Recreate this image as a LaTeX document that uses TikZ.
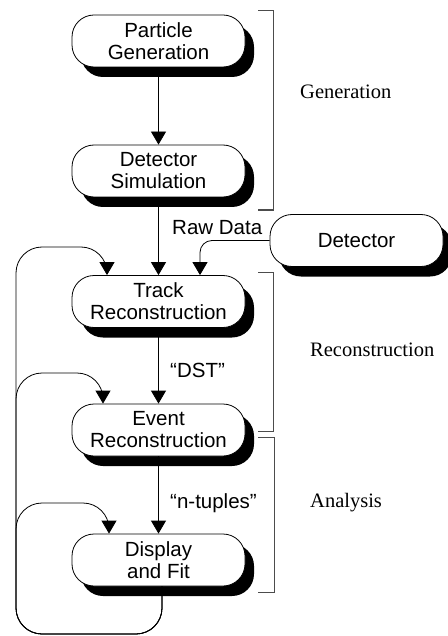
\documentclass[tikz,border=0pt]{standalone}
\usepackage{fontspec}
\setmainfont{Liberation Serif}
\setsansfont{Liberation Sans}
\usetikzlibrary{arrows.meta,shadows}

\begin{document}
\begin{tikzpicture}[x=1pt,y=-1pt,
  stage/.style={draw, line width=0.8pt, fill=white, rounded corners=22pt,
    minimum width=173pt, minimum height=52pt, inner sep=0pt, align=center,
    font=\sffamily\fontsize{20.5}{22}\selectfont,
    drop shadow={shadow xshift=9pt, shadow yshift=-10pt, fill=black, opacity=1}},
  flow/.style={line width=0.8pt, -{Triangle[width=15pt,length=13pt]}},
  feedback/.style={flow, rounded corners=26pt},
  tag/.style={font=\sffamily\fontsize{20.5}{22}\selectfont, anchor=west, inner sep=0pt},
  phase/.style={font=\fontsize{20.5}{22}\selectfont, anchor=west, inner sep=0pt},
  bracket/.style={line width=1pt, black!70}
]
\useasboundingbox (0,0) rectangle (447,636);

% processing stages
\node[stage] (pg)  at (158.5,41)    {Particle\\Generation};
\node[stage] (ds)  at (158.5,171)   {Detector\\Simulation};
\node[stage] (tr)  at (158.5,301.5) {Track\\Reconstruction};
\node[stage] (er)  at (158.5,430)   {Event\\Reconstruction};
\node[stage] (df)  at (158.5,560)   {Display\\and Fit};
\node[stage] (det) at (356.5,240.5) {Detector};

% main chain
\draw[flow] (pg) -- (ds);
\draw[flow] (ds) -- (tr);
\draw[flow] (tr) -- (er);
\draw[flow] (er) -- (df);
\draw[flow, rounded corners=12pt] (det.west) -| ([xshift=41.5pt]tr.north);

% data labels on the chain
\node[tag] (raw) at (172,228) {Raw Data};
\node[tag] (dst) at (170,370) {“DST”};
\node[tag] (ntp) at (170,503) {“n-tuples”};

% feedback loops from the fit back to earlier stages (shared return line)
\draw[feedback] ([xshift=3.5pt]df.south) -- (162,634) -- (16,634) -- (16,247)
  -- (107,247) [rounded corners=12pt] -- ([xshift=-51.5pt]tr.north);
\draw[feedback] ([xshift=3.5pt]df.south) -- (162,634) -- (16,634) -- (16,373)
  -- (103,373) [rounded corners=12pt] -- ([xshift=-55.5pt]er.north);
\draw[feedback] ([xshift=3.5pt]df.south) -- (162,634) -- (16,634) -- (16,503)
  -- (109,503) [rounded corners=12pt] -- ([xshift=-49.5pt]df.north);

% phase brackets
\draw[bracket] (258,11) -- (273,11) -- (273,210) -- (258,210);
\draw[bracket] (258,272) -- (273,272) -- (273,431) -- (258,431);
\draw[bracket] (258,437) -- (274,437) -- (274,592) -- (258,592);

\node[phase] (gen) at (300,92)  {Generation};
\node[phase] (rec) at (310,350) {Reconstruction};
\node[phase] (ana) at (310,503) {Analysis};
\end{tikzpicture}
\end{document}
